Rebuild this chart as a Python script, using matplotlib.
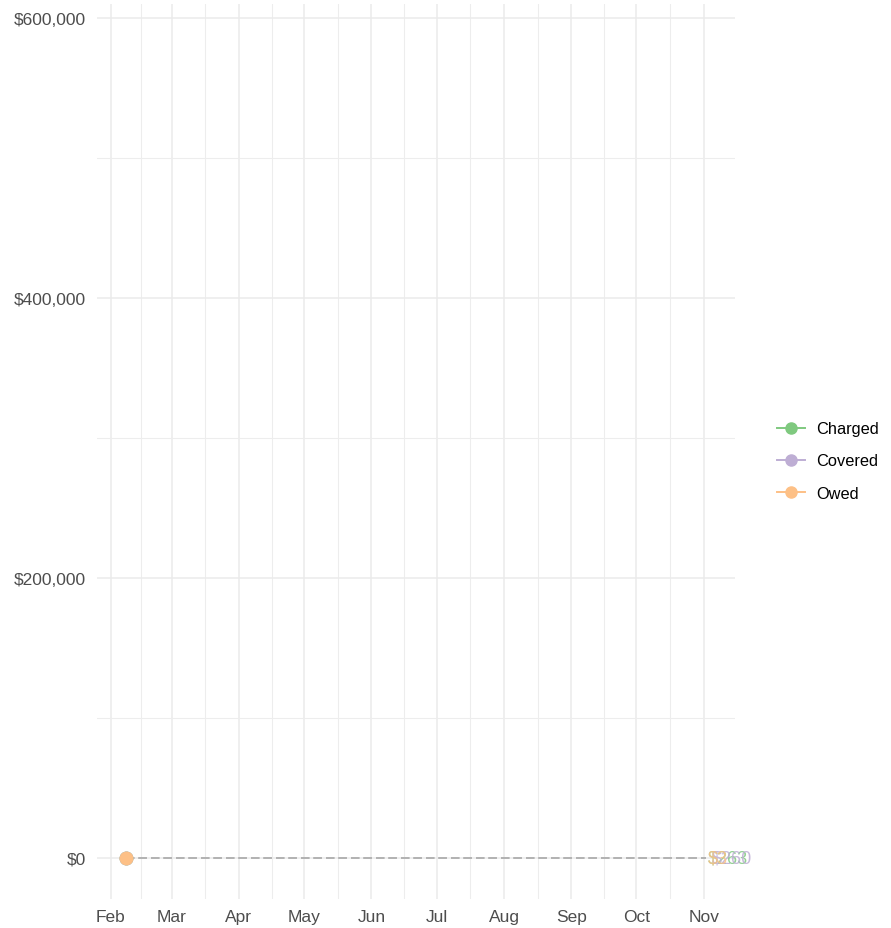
import matplotlib
matplotlib.use("Agg")
import matplotlib.pyplot as plt
import matplotlib.dates as mdates
from matplotlib.lines import Line2D
import datetime as dt

plt.rcParams["font.family"] = ["Liberation Sans", "DejaVu Sans"]

# data
series = ["Charged", "Covered", "Owed"]
colors = ["#7fc97f", "#beaed4", "#fdc086"]
start_date = dt.date(2021, 2, 8)
end_date = dt.date(2021, 11, 2)
start_vals = [0, 0, 0]
end_labels = ["$263", "$260", "$3"]
y_breaks = [0, 200000, 400000, 600000]
y_labels = ["$0", "$200,000", "$400,000", "$600,000"]
month_starts = [dt.date(2021, m, 1) for m in range(2, 12)]
month_labels = ["Feb", "Mar", "Apr", "May", "Jun", "Jul", "Aug", "Sep", "Oct", "Nov"]

fig = plt.figure(figsize=(8.91, 9.29), dpi=100)
ax = fig.add_axes([97 / 891, 29 / 929, (735 - 97) / 891, (924 - 29) / 929])

x0 = mdates.date2num(start_date)
x1 = mdates.date2num(end_date)
span = x1 - x0
ax.set_xlim(x0 - 0.05 * span, x1 + 0.05 * span)
ax.set_ylim(-29300, 610000)

# grid
majors = mdates.date2num(month_starts)
minors = list((majors[:-1] + majors[1:]) / 2) + [majors[-1] + (majors[-1] - majors[-2]) / 2]
for x in majors:
    ax.axvline(x, color="#ebebeb", lw=1.1, zorder=0)
for x in minors:
    ax.axvline(x, color="#ededed", lw=0.8, zorder=0)
for y in y_breaks:
    ax.axhline(y, color="#ebebeb", lw=1.1, zorder=0)
for y in [100000, 300000, 500000]:
    ax.axhline(y, color="#ededed", lw=0.8, zorder=0)

# dashed guide lines to the end labels
for i, s in enumerate(series):
    ax.plot([x0, x1], [start_vals[i], start_vals[i]], ls=(0, (5, 2.5)),
            color="#b3b3b3", lw=1.2, zorder=2)

for i, s in enumerate(series):
    ax.plot([x0], [start_vals[i]], "o", color=colors[i], ms=9, zorder=3)

offsets = [1.0, 2.5, 1.0]
for i, s in enumerate(series):
    ax.text(x1 + offsets[i], start_vals[i], end_labels[i], color=colors[i],
            fontsize=13, ha="left", va="center", alpha=0.85, zorder=4,
            clip_on=False)

ax.set_xticks(majors)
ax.set_xticklabels(month_labels)
ax.set_yticks(y_breaks)
ax.set_yticklabels(y_labels)
ax.tick_params(length=0, labelsize=12.5, labelcolor="#4d4d4d")
ax.tick_params(axis="x", pad=7)
ax.tick_params(axis="y", pad=8)
for sp in ax.spines.values():
    sp.set_visible(False)

handles = [Line2D([0], [0], color=c, marker="o", ms=8, lw=1.4) for c in colors]
fig.legend(handles, series, loc="center left", bbox_to_anchor=(762 / 891, 1 - 462 / 929),
           frameon=False, fontsize=11.8, labelspacing=1.05, handlelength=1.7,
           handletextpad=0.7)

fig.savefig("out.png", dpi=100)
